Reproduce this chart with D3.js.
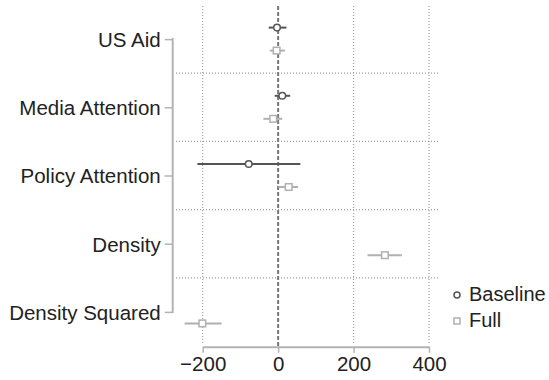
<!DOCTYPE html>
<html><head><meta charset="utf-8">
<script src="https://cdn.jsdelivr.net/npm/d3@7"></script>
<style>body{margin:0;background:#fff}svg{display:block}text{font-family:"Liberation Sans",Arial,sans-serif}</style>
</head><body><svg id="c" width="549" height="380"></svg>
<script>
const categories = ["US Aid","Media Attention","Policy Attention","Density","Density Squared"];
const baselineEst = [-3, 11, -78, null, null];
const baselineLo  = [-25, -9, -214, null, null];
const baselineHi  = [22, 32, 59, null, null];
const fullEst = [-4, -13, 28, 283, -201];
const fullLo  = [-22, -39, 1, 237, -248];
const fullHi  = [18, 11, 53, 328, -150];
const xTicks = [-200, 0, 200, 400];
const seriesNames = ["Baseline","Full"];

const svg = d3.select("#c");
const x = d3.scaleLinear().domain([-200, 400]).range([202.7, 429]);
const y = d3.scalePoint().domain(categories).range([5, 346]).padding(0.5);
const off = 11.5;
const plotTop = 6, plotBottom = 345, axisY = 346.7;
const darkC = "#555", lightC = "#b0b0b0", axisC = "#b3b3b3";

// vertical grid (dotted) except 0
svg.append("g").selectAll("line").data(xTicks.filter(d => d !== 0)).join("line")
  .attr("x1", d => x(d)).attr("x2", d => x(d)).attr("y1", plotTop).attr("y2", plotBottom)
  .attr("stroke", "#a0a0a0").attr("stroke-width", 1.2).attr("stroke-dasharray", "1,2");
// horizontal separators
const seps = categories.slice(1).map(c => y(c) - y.step() / 2);
svg.append("g").selectAll("line").data(seps).join("line")
  .attr("x1", 176).attr("x2", 440).attr("y1", d => d).attr("y2", d => d)
  .attr("stroke", "#a0a0a0").attr("stroke-width", 1.2).attr("stroke-dasharray", "1,2");
// zero line
svg.append("line").attr("x1", x(0)).attr("x2", x(0)).attr("y1", plotTop).attr("y2", axisY)
  .attr("stroke", "#777").attr("stroke-width", 2).attr("stroke-dasharray", "4,2");

// bottom axis
const gx = svg.append("g").attr("transform", `translate(0,${axisY})`)
  .call(d3.axisBottom(x).tickValues(xTicks).tickSize(6).tickSizeOuter(0).tickFormat(d => d < 0 ? "\u2212" + Math.abs(d) : d));
gx.select(".domain").attr("stroke", axisC).attr("stroke-width", 2);
gx.selectAll(".tick line").attr("stroke", axisC).attr("stroke-width", 1.5);
gx.selectAll(".tick text").attr("font-size", 20.5).attr("fill", "#222").attr("dy", "0.75em")
  .attr("font-family", "Liberation Sans, Arial, sans-serif");

// left axis
const ax = 172.7;
const gy = svg.append("g").attr("transform", `translate(${ax},0)`)
  .call(d3.axisLeft(y).tickSize(8).tickSizeOuter(0).tickPadding(4));
gy.select(".domain").remove();
gy.append("line").attr("x1", 0).attr("x2", 0).attr("y1", y(categories[0]) - 1).attr("y2", y(categories[4]) + 1)
  .attr("stroke", axisC).attr("stroke-width", 2);
gy.selectAll(".tick line").attr("stroke", axisC).attr("stroke-width", 1.5);
gy.selectAll(".tick text").attr("font-size", 20.5).attr("fill", "#222").attr("dy", "0.36em")
  .attr("font-family", "Liberation Sans, Arial, sans-serif");

// data
const base = categories.map((c, i) => ({c, est: baselineEst[i], lo: baselineLo[i], hi: baselineHi[i]})).filter(d => d.est !== null);
const full = categories.map((c, i) => ({c, est: fullEst[i], lo: fullLo[i], hi: fullHi[i]}));

const gb = svg.append("g");
gb.selectAll("line").data(base).join("line")
  .attr("x1", d => x(d.lo)).attr("x2", d => x(d.hi))
  .attr("y1", d => y(d.c) - off).attr("y2", d => y(d.c) - off)
  .attr("stroke", darkC).attr("stroke-width", 2);
gb.selectAll("circle").data(base).join("circle")
  .attr("cx", d => x(d.est)).attr("cy", d => y(d.c) - off).attr("r", 3.3)
  .attr("fill", "#fff").attr("stroke", darkC).attr("stroke-width", 1.5);

const gf = svg.append("g");
gf.selectAll("line").data(full).join("line")
  .attr("x1", d => x(d.lo)).attr("x2", d => x(d.hi))
  .attr("y1", d => y(d.c) + off).attr("y2", d => y(d.c) + off)
  .attr("stroke", lightC).attr("stroke-width", 2);
gf.selectAll("rect").data(full).join("rect")
  .attr("x", d => x(d.est) - 3.3).attr("y", d => y(d.c) + off - 3.3).attr("width", 6.6).attr("height", 6.6)
  .attr("fill", "#fff").attr("stroke", lightC).attr("stroke-width", 1.5);

// legend
const lg = svg.append("g");
lg.append("circle").attr("cx", 457).attr("cy", 295).attr("r", 3).attr("fill", "#fff").attr("stroke", darkC).attr("stroke-width", 1.5);
lg.append("rect").attr("x", 454).attr("y", 318).attr("width", 6).attr("height", 6).attr("fill", "#fff").attr("stroke", lightC).attr("stroke-width", 1.5);
lg.selectAll("text").data(seriesNames).join("text")
  .attr("x", 469).attr("y", (d, i) => 294 + i * 26).attr("dy", "0.36em")
  .attr("font-size", 20).attr("fill", "#222").text(d => d);
</script></body></html>
